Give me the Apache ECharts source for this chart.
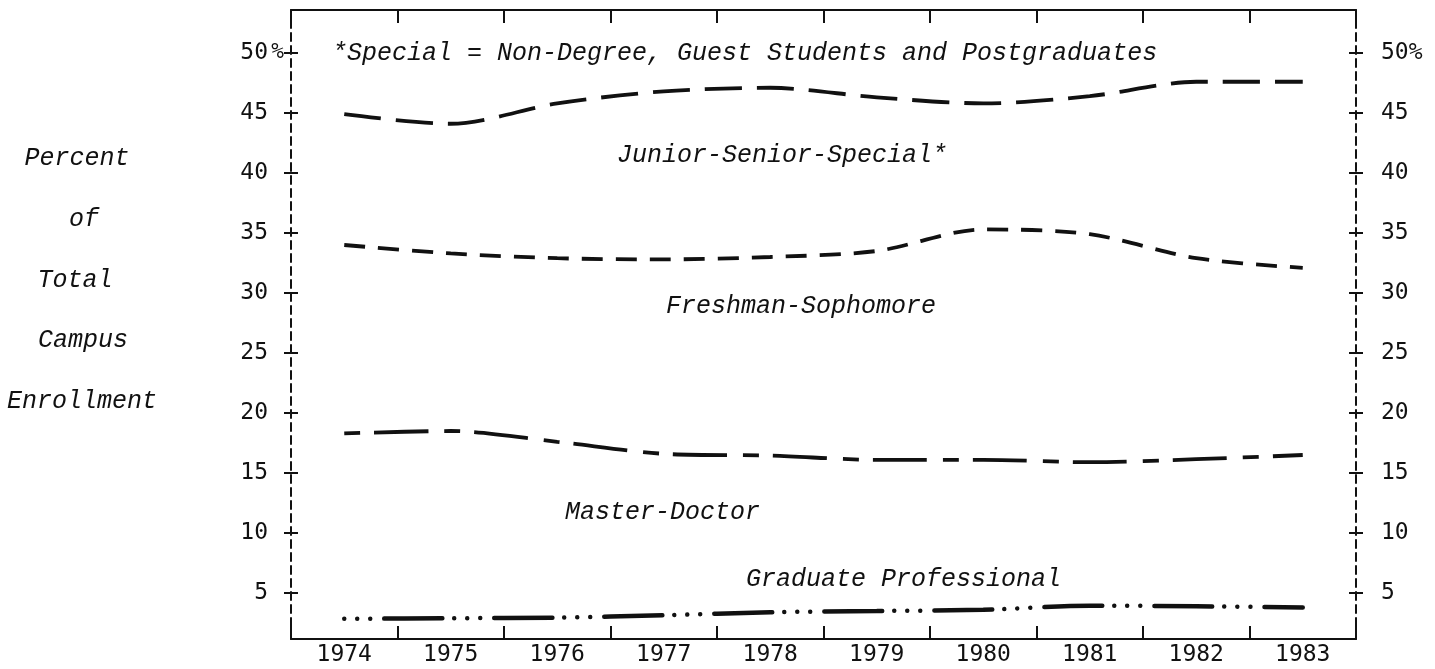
<!DOCTYPE html>
<html>
<head>
<meta charset="utf-8">
<script src="https://cdn.jsdelivr.net/npm/echarts@6/dist/echarts.min.js"></script>
<style>
html, body { margin: 0; padding: 0; background: #fff; }
#chart { width: 1435px; height: 669px; }
</style>
</head>
<body>
<div id="chart"></div>
<script>
var years = ['1974', '1975', '1976', '1977', '1978', '1979', '1980', '1981', '1982', '1983'];
var juniorSeniorSpecial = [44.9, 44.1, 45.8, 46.8, 47.1, 46.3, 45.8, 46.4, 47.6, 47.6];
var freshmanSophomore = [34.0, 33.3, 32.9, 32.8, 33.0, 33.5, 35.3, 34.9, 32.9, 32.1];
var masterDoctor = [18.3, 18.5, 17.6, 16.6, 16.45, 16.1, 16.1, 15.9, 16.15, 16.5];
var graduateProfessional = [2.85, 2.9, 2.95, 3.15, 3.4, 3.5, 3.6, 3.95, 3.9, 3.8];
var yTicks = [5, 10, 15, 20, 25, 30, 35, 40, 45, 50];

var chart = echarts.init(document.getElementById('chart'));

var ink = '#111';
var numFont = 'DejaVu Sans Mono';
var typeFont = "italic 25px 'Liberation Mono'";

// y axes: ticks drawn as "+" by pairing an outside and an inside tick
function yAxis(pos, inside, labels) {
	return {
		type: 'value',
		position: pos,
		min: 1.17,
		max: 53.58,
		axisLine: { show: !inside, lineStyle: { color: ink, width: 2, type: [8, 5] } },
		axisTick: { show: true, inside: inside, length: 7, customValues: yTicks, lineStyle: { color: ink, width: 2 } },
		axisLabel: labels,
		splitLine: { show: false }
	};
}

function xAxis(pos, labels) {
	return {
		type: 'category',
		data: years,
		position: pos,
		boundaryGap: true,
		axisLine: { show: true, lineStyle: { color: ink, width: 2 } },
		axisTick: { show: true, inside: true, length: 13, interval: 0, alignWithLabel: false, lineStyle: { color: ink, width: 2 } },
		axisLabel: labels
	};
}

function line(name, data, dash, width, cap) {
	return {
		name: name,
		type: 'line',
		data: data,
		smooth: 0.3,
		symbol: 'none',
		lineStyle: { color: ink, width: width, type: dash, cap: cap || 'butt' }
	};
}

function note(text, x, y, align) {
	return {
		type: 'text',
		x: x,
		y: y,
		style: {
			text: text,
			font: typeFont,
			fill: ink,
			align: align || 'left',
			verticalAlign: 'middle'
		}
	};
}

var option = {
	animation: false,
	grid: { left: 291, right: 79, top: 10, bottom: 30 },
	xAxis: [
		xAxis('bottom', { interval: 0, margin: 5, color: ink, fontFamily: numFont, fontSize: 23 }),
		xAxis('top', { show: false })
	],
	yAxis: [
		yAxis('left', false, { customValues: yTicks, margin: 23, color: ink, fontFamily: numFont, fontSize: 23 }),
		yAxis('left', true, { customValues: [50], margin: 7, formatter: '%', color: ink, fontFamily: numFont, fontSize: 21 }),
		yAxis('right', false, {
			customValues: yTicks, margin: 25, color: ink, fontFamily: numFont, fontSize: 23,
			formatter: function (v) { return v === 50 ? '50%' : v; }
		}),
		yAxis('right', true, { show: false })
	],
	series: [
		line('Junior-Senior-Special', juniorSeniorSpecial, [37, 15], 3.8),
		line('Freshman-Sophomore', freshmanSophomore, [21, 13], 3.8),
		line('Master-Doctor', masterDoctor, [16, 14, 54, 16], 3.8),
		line('Graduate Professional', graduateProfessional, [0.01, 13, 0.01, 13, 0.01, 14, 58, 12], 4.5, 'round')
	],
	graphic: [
		note('*Special = Non-Degree, Guest Students and Postgraduates', 332, 53),
		note('Junior-Senior-Special*', 617, 155),
		note('Freshman-Sophomore', 666, 306),
		note('Master-Doctor', 565, 512),
		note('Graduate Professional', 746, 579),
		note('Percent', 77, 158, 'center'),
		note('of', 84, 219, 'center'),
		note('Total', 75, 280, 'center'),
		note('Campus', 83, 340, 'center'),
		note('Enrollment', 82, 401, 'center')
	]
};

chart.setOption(option);
</script>
</body>
</html>
